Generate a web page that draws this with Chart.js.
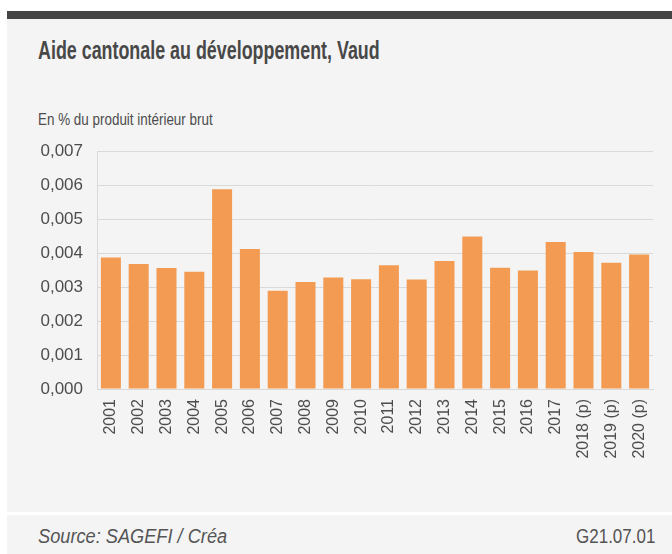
<!DOCTYPE html>
<html>
<head>
<meta charset="utf-8">
<script src="https://cdn.jsdelivr.net/npm/chart.js@4.4.0/dist/chart.umd.min.js"></script>
<style>
  body { margin: 0; background: #fff; font-family: "Liberation Sans", Arial, sans-serif; color: #595959; }
  #wrap { position: relative; width: 672px; height: 554px; overflow: hidden; }
  #topbar { position: absolute; left: 7px; top: 11px; width: 665px; height: 8px; background: #444; }
  #panel { position: absolute; left: 7px; top: 19px; width: 665px; height: 493px; background: #f4f4f4; }
  #footer { position: absolute; left: 7px; top: 515px; width: 665px; height: 39px; background: #f4f4f4; }
  .txt { position: absolute; white-space: nowrap; line-height: normal; }
  #title { left: 38px; top: 36px; font-size: 25px; font-weight: bold; color: #484848; transform: scaleX(0.715); transform-origin: left top; }
  #subtitle { left: 38px; top: 110px; font-size: 17px; color: #4d4d4d; transform: scaleX(0.79); transform-origin: left top; }
  #source { left: 38px; top: 525px; font-size: 20px; font-style: italic; color: #555; transform: scaleX(0.91); transform-origin: left top; }
  #code { right: 17px; top: 525px; font-size: 20px; color: #555; transform: scaleX(0.85); transform-origin: right top; }
  #c { position: absolute; left: 0; top: 127px; }
</style>
</head>
<body>
<div id="wrap">
  <div id="topbar"></div>
  <div id="panel"></div>
  <div id="footer"></div>
  <div id="title" class="txt">Aide cantonale au développement, Vaud</div>
  <div id="subtitle" class="txt">En % du produit intérieur brut</div>
  <div id="source" class="txt">Source: SAGEFI / Créa</div>
  <div id="code" class="txt">G21.07.01</div>
  <canvas id="c" width="672" height="353"></canvas>
</div>
<script>
var years = ["2001", "2002", "2003", "2004", "2005", "2006", "2007", "2008", "2009", "2010",
             "2011", "2012", "2013", "2014", "2015", "2016", "2017", "2018 (p)", "2019 (p)", "2020 (p)"];
var shares = [0.00387, 0.00368, 0.00356, 0.00345, 0.00588, 0.00412, 0.00289, 0.00315, 0.00328, 0.00323,
              0.00364, 0.00322, 0.00377, 0.00449, 0.00357, 0.00349, 0.00433, 0.00403, 0.00372, 0.00396];
var yTicks = [0, 0.001, 0.002, 0.003, 0.004, 0.005, 0.006, 0.007];

var sans = "'Liberation Sans', Arial, sans-serif";
var grey = "#d9d9d9";

new Chart(document.getElementById("c"), {
  type: "bar",
  data: {
    labels: years,
    datasets: [{
      data: shares,
      backgroundColor: "#f39b53",
      borderWidth: 0,
      categoryPercentage: 0.72,
      barPercentage: 1
    }]
  },
  options: {
    responsive: false,
    animation: false,
    layout: { padding: { left: 0, right: 19, top: 6, bottom: 0 } },
    plugins: { legend: { display: false }, tooltip: { enabled: false } },
    scales: {
      y: {
        min: 0,
        max: 0.007,
        afterBuildTicks: function (scale) {
          scale.ticks = yTicks.map(function (v) { return { value: v }; });
        },
        afterFit: function (scale) { scale.width = 97; },
        ticks: {
          padding: 14,
          color: "#4d4d4d",
          font: { family: sans, size: 17 },
          callback: function (v) { return v.toFixed(3).replace(".", ","); }
        },
        grid: { color: grey, lineWidth: 1, drawTicks: false },
        border: { display: true, color: grey }
      },
      x: {
        afterFit: function (scale) { scale.height = 91; },
        ticks: {
          minRotation: 90,
          maxRotation: 90,
          padding: 2,
          autoSkip: false,
          color: "#4d4d4d",
          font: { family: sans, size: 16 }
        },
        grid: { display: false },
        border: { display: true, color: grey }
      }
    }
  }
});
</script>
</body>
</html>
